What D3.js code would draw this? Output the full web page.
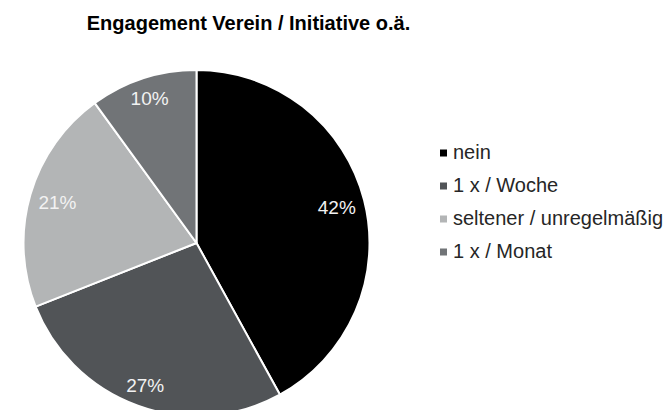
<!DOCTYPE html>
<html>
<head>
<meta charset="utf-8">
<script src="https://cdn.jsdelivr.net/npm/d3@7"></script>
<style>
  body { margin: 0; background: #fff; }
  svg { display: block; font-family: "Liberation Sans", Arial, sans-serif; }
</style>
</head>
<body>
<div id="chart"></div>
<script>
// Data
const categories = ["nein", "1 x / Woche", "seltener / unregelmäßig", "1 x / Monat"];
const shares = [42, 27, 21, 10];
const colors = ["#000000", "#515457", "#b3b5b6", "#717477"];
const title = "Engagement Verein / Initiative o.ä.";

const width = 668, height = 410;
const cx = 196.5, cy = 243, radius = 173;

const svg = d3.select("#chart").append("svg")
  .attr("width", width)
  .attr("height", height);

// Title
svg.append("text")
  .attr("x", 248.5)
  .attr("y", 30)
  .attr("text-anchor", "middle")
  .style("font-size", "20px")
  .style("font-weight", "bold")
  .attr("fill", "#000")
  .text(title);

const data = categories.map((c, i) => ({ name: c, value: shares[i], color: colors[i] }));

const pie = d3.pie().sort(null).value(d => d.value);
const arc = d3.arc().innerRadius(0).outerRadius(radius);

const g = svg.append("g").attr("transform", `translate(${cx},${cy})`);

const arcs = pie(data);

g.selectAll("path")
  .data(arcs)
  .enter()
  .append("path")
  .attr("d", arc)
  .attr("fill", d => d.data.color)
  .attr("stroke", "#fff")
  .attr("stroke-width", 2)
  .attr("stroke-linejoin", "round");

// Labels, placed "inside end": the box corner furthest out sits near the edge
const labelSize = 19, capH = labelSize * 0.716, pad = 8;
g.selectAll("text.lbl")
  .data(arcs)
  .enter()
  .append("text")
  .attr("class", "lbl")
  .attr("text-anchor", "middle")
  .style("font-size", labelSize + "px")
  .attr("fill", "#f2f2f2")
  .text(d => d.data.value + "%")
  .each(function(d) {
    const w = this.getComputedTextLength();
    const a = (d.startAngle + d.endAngle) / 2;
    const ux = Math.sin(a), uy = -Math.cos(a);
    const hx = Math.sign(ux) * w / 2, hy = Math.sign(uy) * capH / 2;
    // find r so that |r*u + h| = radius - pad
    const target = radius - pad;
    const b = ux * hx + uy * hy;
    const c = hx * hx + hy * hy - target * target;
    const r = -b + Math.sqrt(b * b - c);
    d3.select(this)
      .attr("x", r * ux)
      .attr("y", r * uy + capH / 2);
  });

// Legend
const legend = svg.append("g").attr("transform", "translate(440,159)");
const rowH = 33;

const item = legend.selectAll("g")
  .data(data)
  .enter()
  .append("g")
  .attr("transform", (d, i) => `translate(0,${i * rowH})`);

item.append("rect")
  .attr("x", 0)
  .attr("y", -9.5)
  .attr("width", 7)
  .attr("height", 7)
  .attr("fill", d => d.color);

item.append("text")
  .attr("x", 13)
  .attr("y", 0)
  .style("font-size", "20px")
  .attr("fill", "#262626")
  .text(d => d.name);
</script>
</body>
</html>
